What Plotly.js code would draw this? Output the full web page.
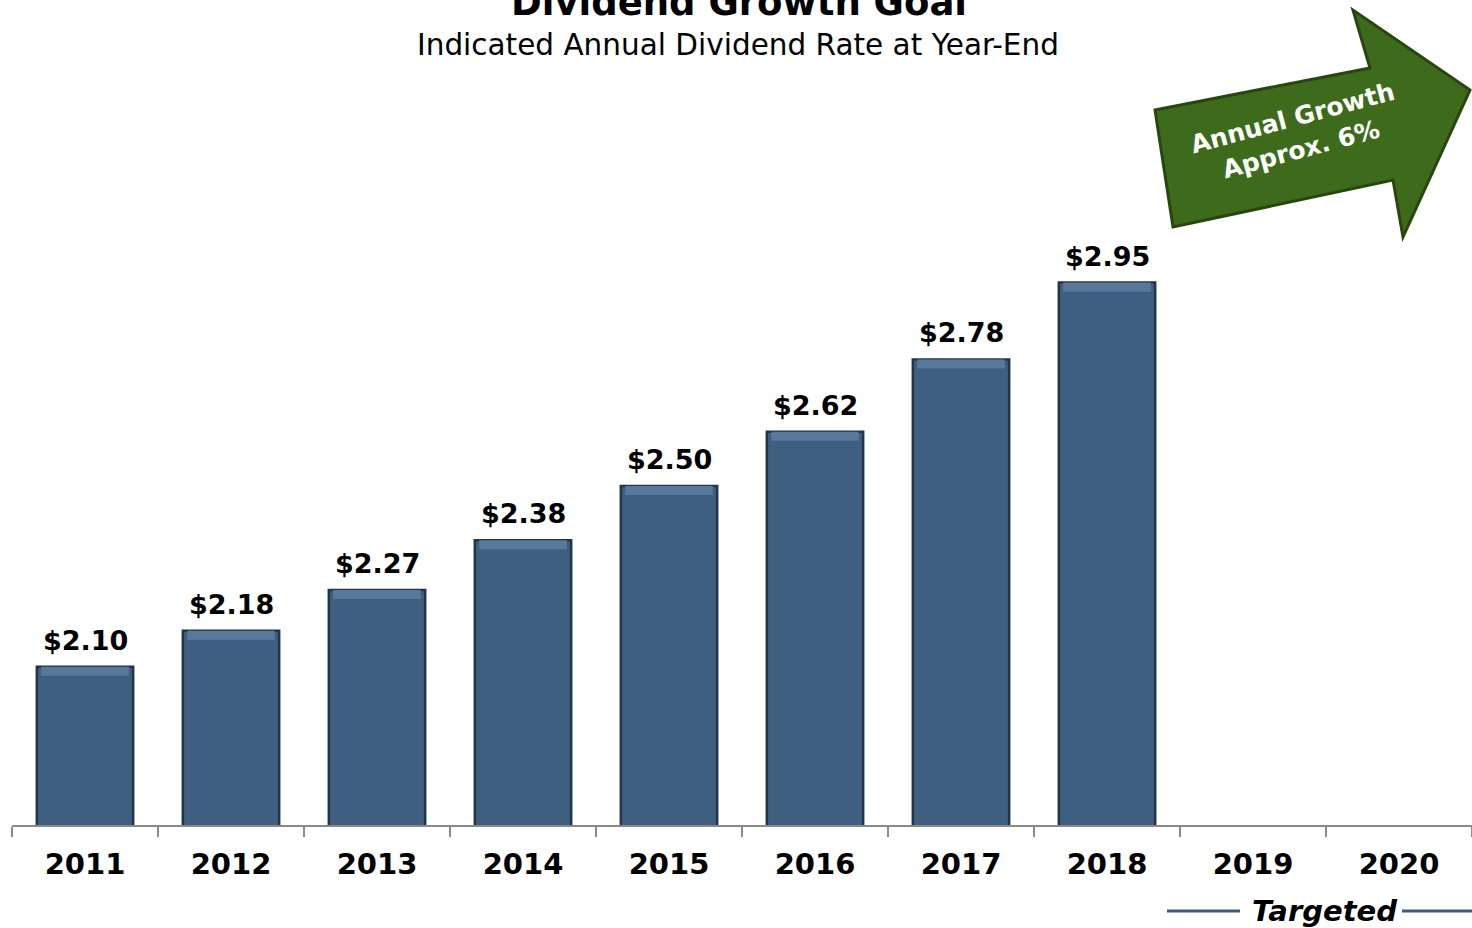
<!DOCTYPE html>
<html>
<head>
<meta charset="utf-8">
<script src="https://cdn.plot.ly/plotly-3.0.1.min.js"></script>
<style>html,body{margin:0;padding:0;background:#fff;}#chart{width:1472px;height:928px;}</style>
</head>
<body>
<div id="chart"></div>
<script>
const years = ["2011","2012","2013","2014","2015","2016","2017","2018","2019","2020"];
const dividends = [2.10, 2.18, 2.27, 2.38, 2.50, 2.62, 2.78, 2.95, null, null];
const valueLabels = ["$2.10","$2.18","$2.27","$2.38","$2.50","$2.62","$2.78","$2.95","",""];

const W = 1472, H = 928;
const mL = 12, mR = 0, mT = 60, mB = 103;
const pw = W - mL - mR, ph = H - mT - mB;
const px = x => (x - mL) / pw;
const py = y => (H - mB - y) / ph;
const bevel = 0.02; // bevel depth in value units (style only)

const arrowPts = [[1173,227],[1155,110],[1370,68],[1353,10],[1470,90],[1403,237],[1393,180]];
const arrowPath = 'M ' + arrowPts.map(p => px(p[0]).toFixed(5) + ',' + py(p[1]).toFixed(5)).join(' L ') + ' Z';

const annotations = [
  {text:'<b>Dividend Growth Goal</b>', xref:'paper', yref:'paper', x:px(739), y:py(26), xanchor:'center', yanchor:'bottom', showarrow:false, font:{family:'DejaVu Sans', size:37, color:'#000'}},
  {text:'Indicated Annual Dividend Rate at Year-End', xref:'paper', yref:'paper', x:px(738), y:py(45), xanchor:'center', yanchor:'middle', showarrow:false, font:{family:'DejaVu Sans', size:29.5, color:'#000'}},
  {text:'<b>Annual Growth<br>Approx. 6%</b>', xref:'paper', yref:'paper', x:px(1297), y:py(134), xanchor:'center', yanchor:'middle', showarrow:false, textangle:-15, font:{family:'DejaVu Sans', size:25, color:'#fff'}},
  {text:'<b><i>Targeted</i></b>', xref:'paper', yref:'paper', x:px(1324), y:py(911), xanchor:'center', yanchor:'middle', showarrow:false, font:{family:'DejaVu Sans', size:29, color:'#000'}}
];
years.forEach((yr, i) => {
  if (dividends[i] !== null) {
    annotations.push({text:'<b>' + valueLabels[i] + '</b>', x:i, y:dividends[i], xref:'x', yref:'y', xanchor:'center', yanchor:'bottom', yshift:9, showarrow:false, font:{family:'DejaVu Sans', size:27, color:'#000'}});
  }
});

const shapes = [
  {type:'path', path:arrowPath, xref:'paper', yref:'paper', fillcolor:'#3d6b1b', line:{color:'#27470f', width:3}, layer:'above'},
  {type:'line', xref:'paper', yref:'paper', x0:px(1167), x1:px(1240), y0:py(911), y1:py(911), line:{color:'#3d5a7a', width:3}},
  {type:'line', xref:'paper', yref:'paper', x0:px(1402), x1:px(1472), y0:py(911), y1:py(911), line:{color:'#3d5a7a', width:3}}
];

const trace = {
  type:'bar', x:years, y:dividends, width:0.66,
  marker:{color:'#3f5f80', line:{color:'#223447', width:2.5}},
  hoverinfo:'skip'
};
const bevelTrace = {
  type:'bar', x:years, y:dividends.map(v => v === null ? null : bevel),
  base:dividends.map(v => v === null ? null : v - bevel), width:0.6,
  marker:{color:'#58799c', line:{width:0}},
  hoverinfo:'skip'
};

const layout = {
  width:W, height:H,
  margin:{l:mL, r:mR, t:mT, b:mB, pad:0},
  paper_bgcolor:'#fff', plot_bgcolor:'#fff',
  showlegend:false, barmode:'overlay',
  xaxis:{type:'category', categoryorder:'array', categoryarray:years, tickson:'boundaries', ticks:'outside', ticklen:10, tickwidth:2, tickcolor:'#8a8a8a', showline:true, linecolor:'#8a8a8a', linewidth:2, showgrid:false, zeroline:false, ticklabelstandoff:12, tickfont:{family:'DejaVu Sans', size:29, color:'#000', weight:'bold'}, range:[-0.5, 9.5]},
  yaxis:{range:[1.75, 1.75 + ph/452], visible:false, showgrid:false, zeroline:false},
  annotations:annotations,
  shapes:shapes
};

Plotly.newPlot('chart', [trace, bevelTrace], layout, {displayModeBar:false, staticPlot:true});
</script>
</body>
</html>
